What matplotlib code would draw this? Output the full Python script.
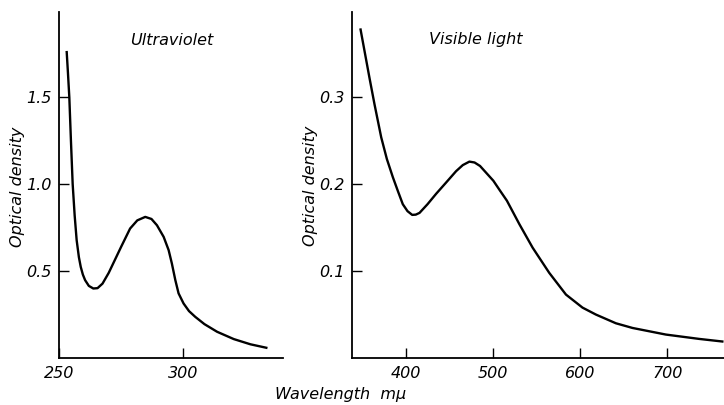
import matplotlib
matplotlib.use("Agg")
import matplotlib.pyplot as plt

# Ultraviolet spectrum (wavelength in m\u03bc, optical density)
uv_wl = [253.1, 253.6, 254.15, 254.8, 255.5, 256.3, 257.1, 258.0, 258.75, 259.6,
         260.5, 262.0, 263.8, 265.5, 267.5, 270.0, 272.5, 275.0, 278.6, 281.5,
         284.7, 287.2, 289.4, 292.1, 294.1, 295.4, 296.8, 298.1, 300.1, 302.3,
         304.8, 308.5, 313.6, 320.3, 327.0, 333.4]
uv_od = [1.760, 1.640, 1.500, 1.250, 1.000, 0.820, 0.678, 0.580, 0.524, 0.480,
         0.448, 0.415, 0.400, 0.402, 0.428, 0.490, 0.565, 0.640, 0.745, 0.792,
         0.812, 0.800, 0.764, 0.697, 0.621, 0.544, 0.448, 0.372, 0.314, 0.270,
         0.237, 0.195, 0.151, 0.109, 0.079, 0.059]

# Visible spectrum
vis_wl = [347.6, 352.2, 357.9, 363.6, 371.3, 377.8, 384.7, 390.5, 396.1, 401.5,
          406.9, 411.0, 415.3, 424.5, 434.4, 445.9, 457.3, 465.0, 472.6, 478.5,
          484.8, 492.0, 500.1, 507.5, 515.7, 530.0, 545.2, 564.3, 583.5, 602.5,
          617.9, 640.8, 659.9, 698.2, 736.4, 763.1]
vis_od = [0.378, 0.353, 0.322, 0.292, 0.254, 0.229, 0.208, 0.192, 0.177, 0.169,
          0.1647, 0.165, 0.167, 0.177, 0.189, 0.202, 0.215, 0.222, 0.226, 0.225,
          0.221, 0.213, 0.204, 0.193, 0.181, 0.154, 0.127, 0.098, 0.073, 0.058,
          0.050, 0.040, 0.0346, 0.027, 0.022, 0.019]

uv_xticks = [250, 300]
uv_yticks = [0.5, 1.0, 1.5]
vis_xticks = [400, 500, 600, 700]
vis_yticks = [0.1, 0.2, 0.3]

plt.rcParams['font.family'] = ['DejaVu Sans']
plt.rcParams['font.style'] = 'italic'
fs = 11.5

fig = plt.figure(figsize=(7.24, 4.05), dpi=100)
ax1 = fig.add_axes([0.0815, 0.116, 0.309, 0.854])
ax2 = fig.add_axes([0.486, 0.116, 0.52, 0.854])

for ax in (ax1, ax2):
    ax.spines['top'].set_visible(False)
    ax.spines['right'].set_visible(False)
    ax.spines['left'].set_linewidth(1.3)
    ax.spines['bottom'].set_linewidth(1.3)
    ax.tick_params(direction='in', length=7, width=1.0, labelsize=fs)
    ax.tick_params(axis='x', pad=6)
    ax.tick_params(axis='y', pad=5)

ax1.plot(uv_wl, uv_od, color='black', lw=1.7, solid_joinstyle='round')
ax1.set_xlim(250, 340)
ax1.set_ylim(0, 1.99)
ax1.set_xticks(uv_xticks)
ax1.set_xticklabels([str(t) for t in uv_xticks])
ax1.set_yticks(uv_yticks)
ax1.set_yticklabels(['%.1f' % t for t in uv_yticks])
ax1.text(0.504, 0.919, 'Ultraviolet', transform=ax1.transAxes,
         ha='center', va='center', fontsize=fs)

ax2.plot(vis_wl, vis_od, color='black', lw=1.7, solid_joinstyle='round')
ax2.set_xlim(337.6, 770)
ax2.set_ylim(0, 0.398)
ax2.set_xticks(vis_xticks)
ax2.set_xticklabels([str(t) for t in vis_xticks])
ax2.set_yticks(vis_yticks)
ax2.set_yticklabels(['%.1f' % t for t in vis_yticks])
ax2.text(0.328, 0.922, 'Visible light', transform=ax2.transAxes,
         ha='center', va='center', fontsize=fs)

fig.text(0.024, 0.538, 'Optical density', rotation=90, ha='center', va='center', fontsize=fs)
fig.text(0.429, 0.54, 'Optical density', rotation=90, ha='center', va='center', fontsize=fs)
fig.text(0.471, 0.025, 'Wavelength  m\u03bc', ha='center', va='center', fontsize=fs)

fig.savefig('out.png', dpi=100)
